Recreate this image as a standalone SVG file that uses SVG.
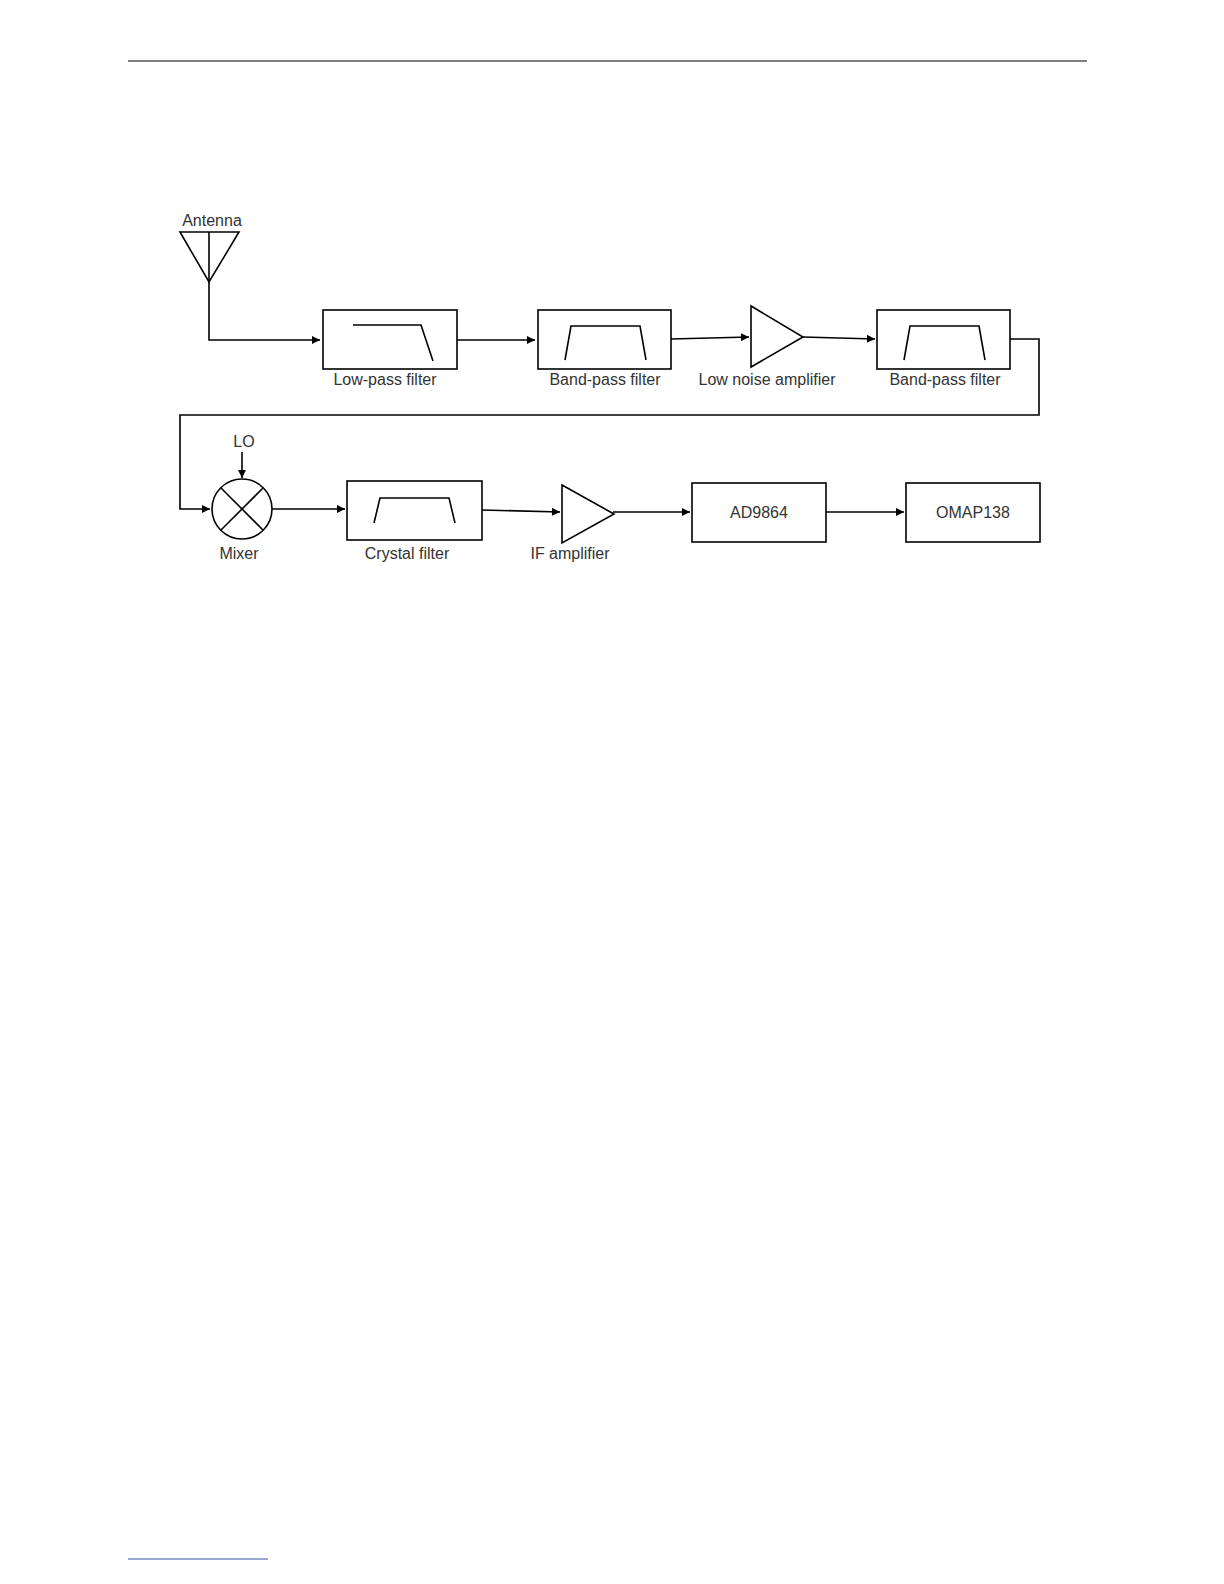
<svg xmlns="http://www.w3.org/2000/svg" width="1224" height="1584" viewBox="0 0 1224 1584">
<style>
.s{fill:none;stroke:#000;stroke-width:1.6}
.b{fill:#fff;stroke:#000;stroke-width:1.6}
text{font-family:"Liberation Sans",Arial,sans-serif;font-size:16px;fill:#333;text-anchor:middle}
</style>
<defs><marker id="a" viewBox="0 0 10 10" refX="10" refY="5" markerWidth="10" markerHeight="8" markerUnits="userSpaceOnUse" orient="auto"><path d="M0,0L10,5L0,10z" fill="#000"/></marker></defs>
<rect width="1224" height="1584" fill="#fff"/>
<line x1="128" y1="61" x2="1087" y2="61" stroke="#000" stroke-width="1.2"/>
<line x1="128" y1="1559" x2="268" y2="1559" stroke="#3050a0" stroke-width="1"/>
<g id="connectors" class="s">
<polyline points="209,282 209,340 320,340" marker-end="url(#a)" class="s"/>
<line x1="457" y1="340" x2="535" y2="340" marker-end="url(#a)"/>
<line x1="671" y1="339" x2="749" y2="337" marker-end="url(#a)"/>
<line x1="803" y1="337" x2="875" y2="339" marker-end="url(#a)"/>
<polyline points="1010,339 1039,339 1039,415 180,415 180,509 210,509" marker-end="url(#a)" class="s"/>
<line x1="242" y1="452" x2="242" y2="478" marker-end="url(#a)"/>
<line x1="272" y1="509" x2="345" y2="509" marker-end="url(#a)"/>
<line x1="482" y1="510" x2="560" y2="512" marker-end="url(#a)"/>
<line x1="613" y1="512" x2="690" y2="512" marker-end="url(#a)"/>
<line x1="826" y1="512" x2="904" y2="512" marker-end="url(#a)"/>
</g>
<g id="antenna"><polygon class="s" points="180,232 239,232 209,282"/><line class="s" x1="209" y1="232" x2="209" y2="282"/><text x="212" y="226">Antenna</text></g>
<g id="lpf"><rect class="b" x="323" y="310" width="134" height="59"/><polyline class="s" points="353,325 421,325 433,361"/><text x="385" y="385">Low-pass filter</text></g>
<g id="bpf1"><rect class="b" x="538" y="310" width="133" height="59"/><polyline class="s" points="565,360 571,326 640,326 646,360"/><text x="605" y="385">Band-pass filter</text></g>
<g id="lna"><polygon class="b" points="751,306 803,337 751,367"/><text x="767" y="385">Low noise amplifier</text></g>
<g id="bpf2"><rect class="b" x="877" y="310" width="133" height="59"/><polyline class="s" points="904,360 910,326 979,326 985,360"/><text x="945" y="385">Band-pass filter</text></g>
<g id="mixer"><circle class="b" cx="242" cy="509" r="30"/><line class="s" x1="221" y1="488" x2="263" y2="530"/><line class="s" x1="263" y1="488" x2="221" y2="530"/><text x="244" y="447">LO</text><text x="239" y="559">Mixer</text></g>
<g id="crystal"><rect class="b" x="347" y="481" width="135" height="59"/><polyline class="s" points="374,523 380,498 449,498 455,523"/><text x="407" y="559">Crystal filter</text></g>
<g id="ifamp"><polygon class="b" points="562,485 614,514 562,543"/><text x="570" y="559">IF amplifier</text></g>
<g id="ad"><rect class="b" x="692" y="483" width="134" height="59"/><text x="759" y="518">AD9864</text></g>
<g id="omap"><rect class="b" x="906" y="483" width="134" height="59"/><text x="973" y="518">OMAP138</text></g>
</svg>
